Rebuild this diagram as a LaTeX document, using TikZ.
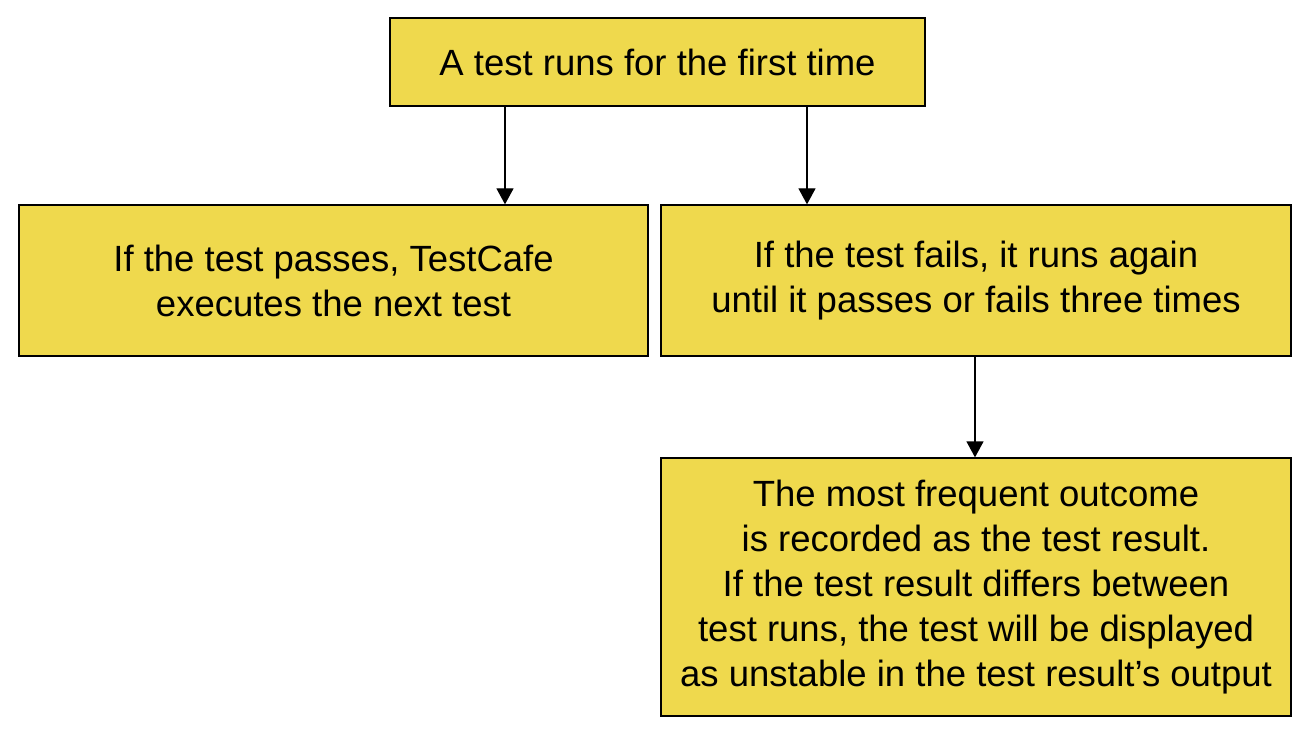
\documentclass[tikz,border=0pt]{standalone}
\usepackage{fontspec}
\setmainfont{Liberation Sans}
\usetikzlibrary{arrows.meta}
\definecolor{boxyellow}{RGB}{239,217,77}
\tikzset{
  box/.style={draw=black, line width=1.3pt, fill=boxyellow, align=center, inner sep=0pt,
    font=\fontsize{36.5}{45}\selectfont},
  conn/.style={draw=black, line width=1.3pt, -{Triangle[width=17pt,length=16pt]}}
}
\begin{document}
\begin{tikzpicture}[x=1pt,y=-1pt]
\useasboundingbox (0,0) rectangle (1310,735);
\node[box, minimum width=535pt, minimum height=88pt] (top) at (657.5,62) {A test runs for the first time};
\node[box, minimum width=629pt, minimum height=151pt] (left) at (333.5,280.5) {If the test passes, TestCafe\\executes the next test};
\node[box, minimum width=630pt, minimum height=151pt] (right) at (976,280.5) {If the test fails, it runs again\\until it passes or fails three times};
\node[box, minimum width=630pt, minimum height=258pt] (bot) at (976,587) {The most frequent outcome\\is recorded as the test result.\\If the test result differs between\\test runs, the test will be displayed\\as unstable in the test result's output};
\coordinate (c1) at (505,0);
\coordinate (c2) at (807,0);
\coordinate (c3) at (975,0);
\draw[conn] (top.south -| c1) -- (left.north -| c1);
\draw[conn] (top.south -| c2) -- (right.north -| c2);
\draw[conn] (right.south -| c3) -- (bot.north -| c3);
\end{tikzpicture}
\end{document}
